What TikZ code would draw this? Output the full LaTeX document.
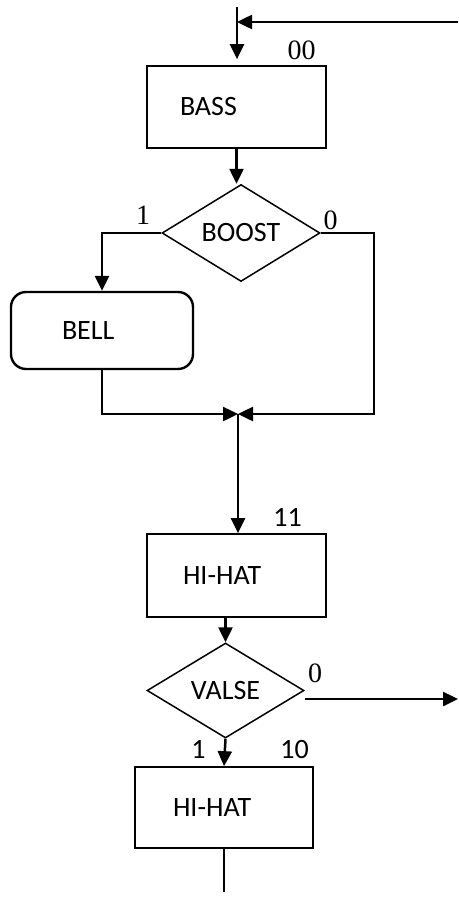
\documentclass[tikz,border=0pt]{standalone}
\usepackage{fontspec}
\setmainfont{Carlito}
\newfontfamily\chiffre{Liberation Serif}
\usetikzlibrary{shapes.geometric,arrows.meta}

\begin{document}
\begin{tikzpicture}[x=1pt,y=-1pt,
  font=\fontsize{28}{34}\selectfont,
  fleche/.style={line width=2.5pt,-{Triangle[length=15pt,width=14pt]}},
  trait/.style={line width=2pt},
  etat/.style={draw,line width=1.7pt,minimum height=82pt,align=left,inner ysep=0pt},
  test/.style={draw,diamond,line width=1.5pt,minimum width=158pt,minimum height=96pt,inner sep=0pt},
  num/.style={inner sep=0pt,font=\fontsize{28}{34}\selectfont\chiffre},
  numc/.style={inner sep=0pt}]

\useasboundingbox (0,0) rectangle (458,897);

% ===== Etats et tests =====
\node[etat,text width=113pt,inner xsep=33pt] (bass) at (236.5,107) {BASS};
\node[test] (boost) at (241,233) {BOOST};
\node[etat,rounded corners=15pt,line width=2.4pt,minimum height=77pt,
      text width=80pt,inner xsep=51pt] (bell) at (102,330.5) {BELL};
\node[etat,minimum height=83pt,text width=107pt,inner xsep=36pt] (hihat) at (236.5,575.5) {HI-HAT};
\node[test,minimum width=157pt,minimum height=95pt] (valse) at (225.5,690.5) {VALSE};
\node[etat,minimum height=81pt,text width=102pt,inner xsep=38pt] (hihatb) at (224,807.5) {HI-HAT};

% Codes des etats et sorties des tests
\node[num] (n00) at (301.5,50) {00};
\node[num] (n1a) at (143,215) {1};
\node[num] (n0a) at (330.5,220) {0};
\node[numc] (n11) at (287.5,517.5) {11};
\node[num] (n0b) at (315,673) {0};
\node[numc] (n1b) at (198.5,749.5) {1};
\node[numc] (n10) at (294.5,749.5) {10};

% ===== Points de passage =====
\coordinate (debut) at (237,7);
\coordinate (retour) at (458,22);
\coordinate (droite) at (374,414);
\coordinate (jonction) at (238,414);
\coordinate (sortie) at (458,699);
\coordinate (fin) at (224,892);

% ===== Fleches =====
\draw[fleche,shorten >=6pt] (debut) -- (debut |- bass.north);
\draw[fleche] (retour) -- (debut |- retour);
\draw[fleche] (bass.south) -- (bass.south |- boost.north);

\draw[fleche] (boost.west) -| (bell.north);
\draw[fleche] (boost.east) -| (droite) -- (jonction);
\draw[fleche] (bell.south) |- (jonction);
\draw[fleche] (jonction) -- (jonction |- hihat.north);

\draw[fleche] (valse.north |- hihat.south) -- (valse.north);
\draw[fleche] (valse.east |- sortie) -- (sortie);
\draw[fleche] (valse.south) -- (hihatb.north);
\draw[trait] (hihatb.south) -- (fin);

\end{tikzpicture}
\end{document}
